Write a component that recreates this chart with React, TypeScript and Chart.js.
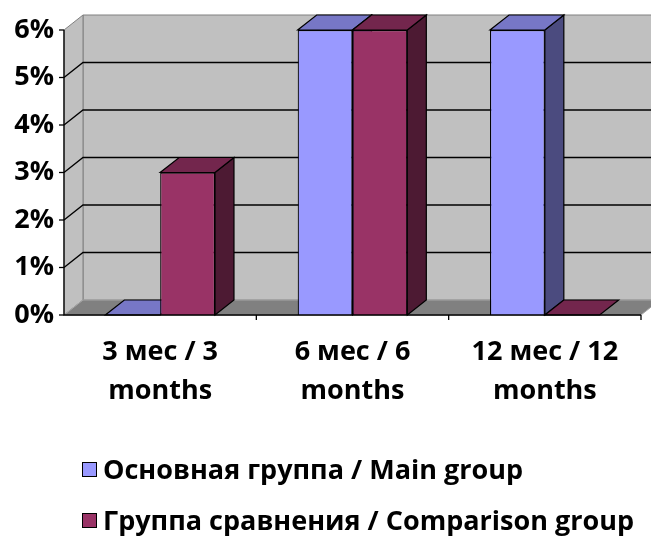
import React, { useEffect, useRef } from "react";
import { Chart, registerables } from "chart.js";

Chart.register(...registerables);

const categories: string[][] = [
  ["3 мес / 3", "months"],
  ["6 мес / 6", "months"],
  ["12 мес / 12", "months"],
];
const mainGroup: number[] = [0, 6, 6];
const comparisonGroup: number[] = [3, 6, 0];
const seriesLabels: string[] = ["Основная группа / Main group", "Группа сравнения / Comparison group"];
const yTicks: number[] = [0, 1, 2, 3, 4, 5, 6];

const FONT = "'Open Sans', sans-serif";
const FONT_SIZE = 27;
const DX = 19;
const DY = -15;

const faceColors = [
  { front: "#9999FF", top: "#7777C6", side: "#4B4B7F" },
  { front: "#993366", top: "#73264D", side: "#4D1A33" },
];

function poly(ctx: CanvasRenderingContext2D, pts: number[][], fill: string, stroke: string, lw = 1) {
  ctx.beginPath();
  ctx.moveTo(pts[0][0], pts[0][1]);
  for (let i = 1; i < pts.length; i++) ctx.lineTo(pts[i][0], pts[i][1]);
  ctx.closePath();
  ctx.fillStyle = fill;
  ctx.fill();
  ctx.strokeStyle = stroke;
  ctx.lineWidth = lw;
  ctx.stroke();
}

const threeD = {
  id: "threeD",
  beforeDatasetsDraw(chart: any) {
    const ctx: CanvasRenderingContext2D = chart.ctx;
    const { left, right, top, bottom } = chart.chartArea;
    const yScale = chart.scales.y;
    ctx.save();
    poly(ctx, [[left + DX, top + DY], [right + DX + 30, top + DY], [right + DX + 30, bottom + DY], [left + DX, bottom + DY]], "#C0C0C0", "#808080");
    poly(ctx, [[left, top], [left + DX, top + DY], [left + DX, bottom + DY], [left, bottom]], "#C0C0C0", "#808080");
    poly(ctx, [[left, bottom], [right, bottom], [right + DX, bottom + DY], [left + DX, bottom + DY]], "#808080", "#A6A6A6");
    ctx.strokeStyle = "#000000";
    ctx.lineWidth = 1.3;
    yTicks.forEach((v) => {
      if (v === yTicks[0] || v === yTicks[yTicks.length - 1]) return;
      const py = yScale.getPixelForValue(v);
      ctx.beginPath();
      ctx.moveTo(left, py);
      ctx.lineTo(left + DX, py + DY);
      ctx.lineTo(right + DX + 30, py + DY);
      ctx.stroke();
    });
    chart.data.datasets.forEach((ds: any, di: number) => {
      const meta = chart.getDatasetMeta(di);
      meta.data.forEach((el: any) => {
        const p = el.getProps(["x", "y", "base", "width"], true);
        const l = p.x - p.width / 2;
        const r = p.x + p.width / 2;
        const t = Math.min(p.y, p.base);
        const b = Math.max(p.y, p.base);
        const c = faceColors[di];
        if (b - t > 0.5) {
          poly(ctx, [[r, t], [r + DX, t + DY], [r + DX, b + DY], [r, b]], c.side, "#000000", 1.2);
        }
        poly(ctx, [[l, t], [r, t], [r + DX, t + DY], [l + DX, t + DY]], c.top, "#000000", 1.2);
      });
    });
    ctx.restore();
  },
  afterDatasetsDraw(chart: any) {
    const ctx: CanvasRenderingContext2D = chart.ctx;
    const { left, right, top, bottom } = chart.chartArea;
    const yScale = chart.scales.y;
    const xScale = chart.scales.x;
    ctx.save();
    ctx.strokeStyle = "#000000";
    ctx.lineWidth = 1.3;
    ctx.beginPath();
    ctx.moveTo(left, top);
    ctx.lineTo(left, bottom);
    ctx.lineTo(right, bottom);
    ctx.stroke();
    yTicks.forEach((v) => {
      const py = yScale.getPixelForValue(v);
      ctx.beginPath();
      ctx.moveTo(left - 5, py);
      ctx.lineTo(left, py);
      ctx.stroke();
    });
    for (let i = 1; i <= categories.length; i++) {
      const px = xScale.getPixelForValue(i - 0.5);
      ctx.beginPath();
      ctx.moveTo(px, bottom);
      ctx.lineTo(px, bottom + 5);
      ctx.stroke();
    }
    ctx.restore();
  },
  afterDraw(chart: any) {
    const ctx: CanvasRenderingContext2D = chart.ctx;
    ctx.save();
    ctx.font = `bold ${FONT_SIZE}px ${FONT}`;
    ctx.textBaseline = "middle";
    ctx.textAlign = "left";
    const rows = [470, 521];
    chart.data.datasets.forEach((ds: any, i: number) => {
      const cy = rows[i];
      ctx.fillStyle = ds.backgroundColor;
      ctx.fillRect(82.5, cy - 7.5, 14, 14);
      ctx.strokeStyle = "#000000";
      ctx.lineWidth = 1;
      ctx.strokeRect(82.5, cy - 7.5, 14, 14);
      ctx.fillStyle = "#000000";
      ctx.fillText(ds.label, 103, cy + 1);
    });
    ctx.restore();
  },
};

export default function App() {
  const ref = useRef<HTMLCanvasElement | null>(null);
  useEffect(() => {
    if (!ref.current) return;
    const chart = new Chart(ref.current, {
      type: "bar",
      data: {
        labels: categories,
        datasets: [
          {
            label: seriesLabels[0],
            data: mainGroup,
            backgroundColor: faceColors[0].front,
            borderColor: "#000000",
            borderWidth: 1.2,
          },
          {
            label: seriesLabels[1],
            data: comparisonGroup,
            backgroundColor: faceColors[1].front,
            borderColor: "#000000",
            borderWidth: 1.2,
          },
        ],
      },
      options: {
        animation: false,
        responsive: false,
        maintainAspectRatio: false,
        layout: { padding: { top: 30, right: 10, bottom: 122, left: 0 } },
        datasets: { bar: { categoryPercentage: 0.57, barPercentage: 1.0 } },
        plugins: {
          legend: { display: false },
          tooltip: { enabled: false },
        },
        scales: {
          x: {
            grid: { display: false },
            border: { display: false },
            ticks: {
              color: "#000000",
              font: { family: FONT, size: FONT_SIZE, weight: "bold", lineHeight: 1.45 },
              padding: 10,
              maxRotation: 0,
              autoSkip: false,
            },
            afterFit(scale: any) {
              scale.height = 100;
            },
          },
          y: {
            min: 0,
            max: 6,
            grid: { display: false },
            border: { display: false },
            ticks: {
              stepSize: 1,
              color: "#000000",
              font: { family: FONT, size: FONT_SIZE, weight: "bold" },
              padding: 2,
              callback: (v: any) => `${v}%`,
            },
            afterFit(scale: any) {
              scale.width = 64;
            },
          },
        },
      },
      plugins: [threeD],
    });
    return () => chart.destroy();
  }, []);
  return (
    <div style={{ position: "fixed", left: 0, top: 0, width: 651, height: 537, background: "#ffffff" }}>
      <canvas ref={ref} width={651} height={537} style={{ width: 651, height: 537, display: "block" }} />
    </div>
  );
}
